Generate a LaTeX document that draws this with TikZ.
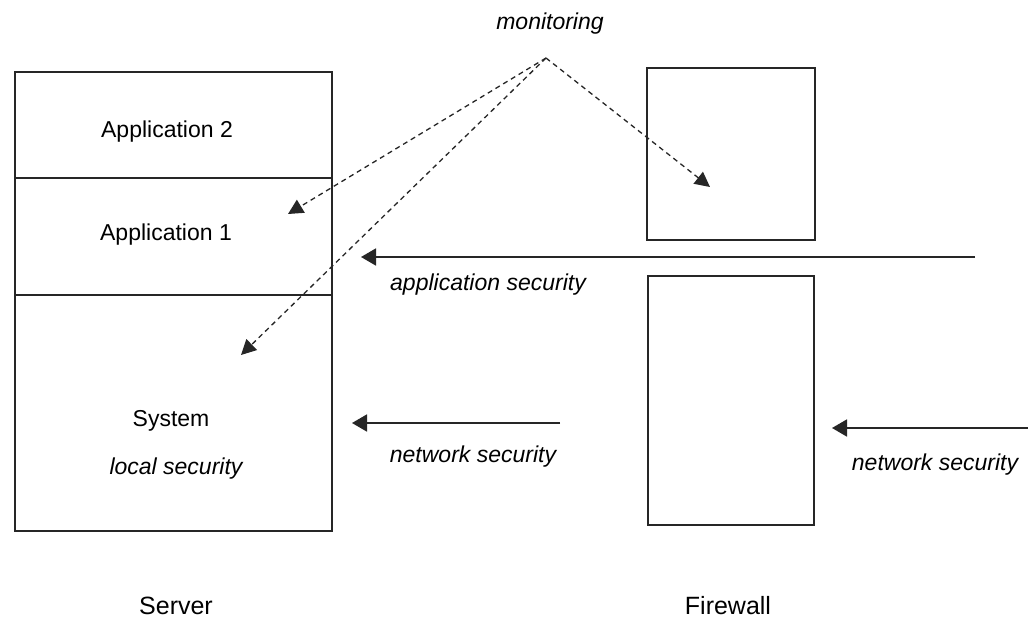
\documentclass[tikz,border=0pt]{standalone}
\usepackage{fontspec}
\setmainfont{Liberation Sans}
\usetikzlibrary{arrows.meta}
\begin{document}
\begin{tikzpicture}[x=1pt,y=-1pt,
  box/.style={draw=black!85,line width=1.6pt,fill=none},
  lbl/.style={inner sep=0pt,font=\fontsize{23}{26}\selectfont},
  ilbl/.style={inner sep=0pt,font=\fontsize{23}{26}\selectfont\itshape},
  biglbl/.style={inner sep=0pt,font=\fontsize{25}{28}\selectfont},
  mon/.style={draw=black!85,line width=1.3pt,dash pattern=on 5pt off 4pt,-{Triangle[width=15pt,length=15pt]}},
  sec/.style={draw=black!85,line width=1.8pt,-{Triangle[width=17pt,length=15pt]}}]
\useasboundingbox (0,0) rectangle (1028,624);
\fill[white] (0,0) rectangle (1028,624);
% server
\draw[box] (15,72) rectangle (332,531);
\coordinate (srvl1) at (15,178); \coordinate (srvr1) at (332,178);
\coordinate (srvl2) at (15,295); \coordinate (srvr2) at (332,295);
\draw[box] (srvl1) -- (srvr1);
\draw[box] (srvl2) -- (srvr2);
\node[lbl] (app2) at (167,132) {Application 2};
\node[lbl] (app1) at (166,235) {Application 1};
\node[lbl] (sys) at (171,421) {System};
\node[ilbl] (locsec) at (176,469) {local security};
% firewall
\node[box,minimum width=168pt,minimum height=172pt,inner sep=0pt] (fwtop) at (731,154) {};
\node[box,minimum width=166pt,minimum height=249pt,inner sep=0pt] (fwbot) at (731,400.5) {};
% labels
\node[ilbl] (monlbl) at (550,24) {monitoring};
\node[biglbl] (server) at (176,606) {Server};
\node[biglbl] (firewall) at (728,606) {Firewall};
\node[ilbl] (appseclbl) at (488,285) {application security};
\node[ilbl] (netseclbl1) at (473,457) {network security};
\node[ilbl] (netseclbl2) at (935,465) {network security};
% monitoring connectors
\coordinate (monsrc) at (546,58);
\coordinate (t1) at (288,214);
\coordinate (t2) at (241,355);
\coordinate (t3) at (710,187);
\draw[mon] (monsrc) -- (t1);
\draw[mon] (monsrc) -- (t2);
\draw[mon] (monsrc) -- (t3);
% security arrows
\coordinate (as1) at (975,257); \coordinate (as2) at (361,257);
\coordinate (ns1a) at (560,423); \coordinate (ns1b) at (352,423);
\coordinate (ns2a) at (1030,428); \coordinate (ns2b) at (832,428);
\draw[sec] (as1) -- (as2);
\draw[sec] (ns1a) -- (ns1b);
\draw[sec] (ns2a) -- (ns2b);
\end{tikzpicture}
\end{document}
